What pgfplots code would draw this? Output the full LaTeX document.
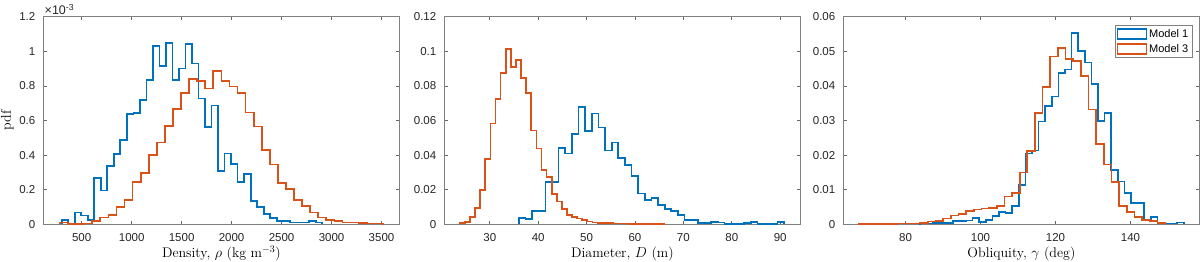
\documentclass[border=0pt]{standalone}
\usepackage{fontspec}
\setmainfont{Liberation Sans}
\newfontfamily\lmr{Latin Modern Roman}
\usepackage{pgfplots}
\usepackage{pgfplotstable}
\pgfplotsset{compat=1.18}
\definecolor{mblue}{rgb}{0,0.447,0.741}
\definecolor{morange}{rgb}{0.85,0.325,0.098}

% Panel 1: density (pdf in units of 1e-3)
\pgfplotstableread{
x y
300 0
300 0.025
365.2 0
430.4 0.069
495.6 0.050
560.8 0.025
626.0 0.266
691.2 0.195
756.4 0.335
821.6 0.408
886.8 0.486
952.0 0.638
1017.2 0.644
1082.4 0.719
1147.6 0.836
1212.8 1.029
1278.0 0.915
1343.2 1.046
1408.4 0.836
1473.6 0.900
1538.8 1.042
1604.0 0.929
1669.2 0.728
1734.4 0.561
1799.6 0.686
1864.8 0.310
1930.0 0.410
1995.2 0.350
2060.4 0.245
2125.6 0.290
2190.8 0.135
2256.0 0.100
2321.2 0.058
2386.4 0.035
2451.6 0.020
2516.8 0.020
2582.0 0.010
2647.2 0.010
2712.4 0.010
2777.6 0.020
2842.8 0.010
2908.0 0
}\rhoA
\pgfplotstableread{
x y
283 0
283 0.010
363.75 0.003
444.5 0.003
525.25 0.005
606 0.020
686.75 0.040
767.5 0.052
848.25 0.100
929 0.140
1009.75 0.245
1090.5 0.295
1171.25 0.400
1252 0.472
1332.75 0.568
1413.5 0.667
1494.25 0.760
1575 0.838
1655.75 0.828
1736.5 0.785
1817.25 0.886
1898 0.828
1978.75 0.796
2059.5 0.757
2140.25 0.647
2221 0.565
2301.75 0.430
2382.5 0.345
2463.25 0.240
2544 0.204
2624.75 0.140
2705.5 0.106
2786.25 0.069
2867 0.040
2947.75 0.025
3028.5 0.021
3109.25 0.010
3190 0.010
3270.75 0.008
3351.5 0.005
3432.25 0.004
3513 0
}\rhoC

% Panel 2: diameter
\pgfplotstableread{
x y
36.00 0
36.00 0.0035
37.37 0.0030
38.74 0.0075
40.11 0.0077
41.48 0.0245
42.85 0.0245
44.22 0.0440
45.59 0.0410
46.96 0.0520
48.33 0.0680
49.70 0.0540
51.07 0.0640
52.44 0.0560
53.81 0.0426
55.18 0.0472
56.55 0.0385
57.92 0.0343
59.29 0.0280
60.66 0.0178
62.03 0.0140
63.40 0.0154
64.77 0.0112
66.14 0.0087
67.51 0.0075
68.88 0.0054
70.25 0.0023
71.62 0.0023
72.99 0.0006
74.36 0.0006
75.73 0.0015
77.10 0.0010
78.47 0.0
79.84 0.0
81.21 0.0
82.58 0.0006
83.95 0.0015
85.32 0.0
86.69 0.0
88.06 0.0
89.43 0.0015
90.80 0
}\diamA
\pgfplotstableread{
x y
23.800 0
23.800 0.0006
24.855 0.0013
25.910 0.0042
26.965 0.0096
28.020 0.0197
29.075 0.0376
30.130 0.0582
31.185 0.0724
32.240 0.0875
33.295 0.1012
34.350 0.0910
35.405 0.0948
36.460 0.0844
37.515 0.0759
38.570 0.0543
39.625 0.0439
40.680 0.0312
41.735 0.0272
42.790 0.0175
43.845 0.0131
44.900 0.0087
45.955 0.0054
47.010 0.0042
48.065 0.0033
49.120 0.0023
50.175 0.0017
51.230 0.0011
52.285 0.0009
53.340 0.0007
54.395 0.0006
55.450 0.0005
56.505 0.0004
57.560 0.0004
58.615 0.0003
59.670 0.0003
60.725 0.0002
61.780 0.0002
62.835 0.0002
63.890 0.0001
64.945 0.0001
66.000 0
}\diamC

% Panel 3: obliquity
\pgfplotstableread{
x y
83.80 0
83.80 0.0002
85.56 0.0002
87.32 0.0003
89.08 0.0003
90.84 0.0004
92.60 0.0010
94.36 0.0010
96.12 0.0011
97.88 0.0019
99.64 0.0007
101.40 0.0013
103.16 0.0024
104.92 0.0035
106.68 0.0033
108.44 0.0052
110.20 0.0114
111.96 0.0205
113.72 0.0213
115.48 0.0297
117.24 0.0342
119.00 0.0369
120.76 0.0437
122.52 0.0447
124.28 0.0553
126.04 0.0501
127.80 0.0468
129.56 0.0405
131.32 0.0298
133.08 0.0321
134.84 0.0156
136.60 0.0124
138.36 0.0091
140.12 0.0062
141.88 0.0062
143.64 0.0012
145.40 0.0022
147.16 0.0002
148.92 0.0002
150.68 0.0002
152.44 0.0005
154.20 0
}\oblA
\pgfplotstableread{
x y
67.60 0
67.60 0.0001
69.64 0.0001
71.68 0.0001
73.72 0.0001
75.76 0.0001
77.80 0.0002
79.84 0.0002
81.88 0.0002
83.92 0.0003
85.96 0.0008
88.00 0.0010
90.04 0.0017
92.08 0.0025
94.12 0.0029
96.16 0.0039
98.20 0.0043
100.24 0.0046
102.28 0.0048
104.32 0.0052
106.36 0.0080
108.40 0.0090
110.44 0.0150
112.48 0.0211
114.52 0.0321
116.56 0.0397
118.60 0.0485
120.64 0.0509
122.68 0.0478
124.72 0.0472
126.76 0.0428
128.80 0.0332
130.84 0.0233
132.88 0.0173
134.92 0.0123
136.96 0.0053
139.00 0.0036
141.04 0.0022
143.08 0.0012
145.12 0.0010
147.16 0.0003
149.20 0
}\oblC

\pgfplotsset{
  hist/.style={
    scale only axis, width=356.2pt, height=207.6pt, anchor=south west,
    axis line style={black!50, line width=0.7pt},
    tick align=inside, tick pos=both, major tick length=3.5pt,
    every tick/.style={black!60, line width=0.6pt},
    tick label style={font=\fontsize{11.5}{13}\selectfont, text=black!85},
    /pgf/number format/assume math mode=true,
    /pgf/number format/fixed, /pgf/number format/1000 sep={},
    scaled ticks=false,
    xticklabel style={yshift=-6pt},
    yticklabel style={xshift=-4.5pt},
    xlabel style={font=\lmr\fontsize{14}{16}\selectfont, at={(axis description cs:0.5,-0.1595)}, anchor=base},
    ylabel style={font=\lmr\fontsize{14}{16}\selectfont, at={(axis description cs:-0.0907,0.5)}, anchor=base},
    ymin=0,
  },
  bl/.style={const plot, mblue, line width=1.7pt},
  or/.style={const plot, morange, line width=1.7pt},
}

\begin{document}
\begin{tikzpicture}
\useasboundingbox (0,0) rectangle (1200pt,262pt);

\begin{axis}[hist, name=ax1, at={(43.3pt,37.7pt)},
  xmin=116, xmax=3680, ymax=1.2,
  xtick={500,1000,1500,2000,2500,3000,3500},
  ytick={0,0.2,0.4,0.6,0.8,1,1.2},
  xlabel={Density, $\rho$ (kg m$^{-3}$)},
  ylabel={pdf}]
\addplot[bl] table[x=x,y=y] {\rhoA};
\addplot[or] table[x=x,y=y] {\rhoC};
\end{axis}
\node[anchor=base west, inner sep=0pt, font=\fontsize{12.5}{14}\selectfont, text=black!85, xshift=1.2pt, yshift=1.9pt] at (ax1.north west) {×10\textsuperscript{-3}};

\begin{axis}[hist, name=ax2, at={(444.3pt,37.7pt)},
  xmin=20.6, xmax=94.2, ymax=0.12,
  xtick={30,40,50,60,70,80,90},
  ytick={0,0.02,0.04,0.06,0.08,0.1,0.12},
  xlabel={Diameter, $D$ (m)}]
\addplot[bl] table[x=x,y=y] {\diamA};
\addplot[or] table[x=x,y=y] {\diamC};
\end{axis}

\begin{axis}[hist, name=ax3, at={(843.3pt,37.7pt)},
  xmin=63.4, xmax=158.4, ymax=0.06,
  xtick={80,100,120,140},
  ytick={0,0.01,0.02,0.03,0.04,0.05,0.06},
  xlabel={Obliquity, $\gamma$ (deg)},
  legend style={at={(1,1)}, anchor=north east, xshift=-7.5pt, yshift=-8.3pt,
    draw=black!50, line width=0.5pt, font=\fontsize{11}{12}\selectfont,
    inner xsep=1.5pt, inner ysep=2pt, row sep=1.5pt, cells={anchor=west}},
  legend cell align=left]
\addplot[bl, forget plot] table[x=x,y=y] {\oblA};
\addplot[or, forget plot] table[x=x,y=y] {\oblC};
\addlegendimage{legend image code/.code={\draw[mblue, line width=1.5pt] (0pt,-5pt) rectangle (29pt,5pt);}}
\addlegendentry{Model 1}
\addlegendimage{legend image code/.code={\draw[morange, line width=1.5pt] (0pt,-5pt) rectangle (29pt,5pt);}}
\addlegendentry{Model 3}
\end{axis}
\end{tikzpicture}
\end{document}
